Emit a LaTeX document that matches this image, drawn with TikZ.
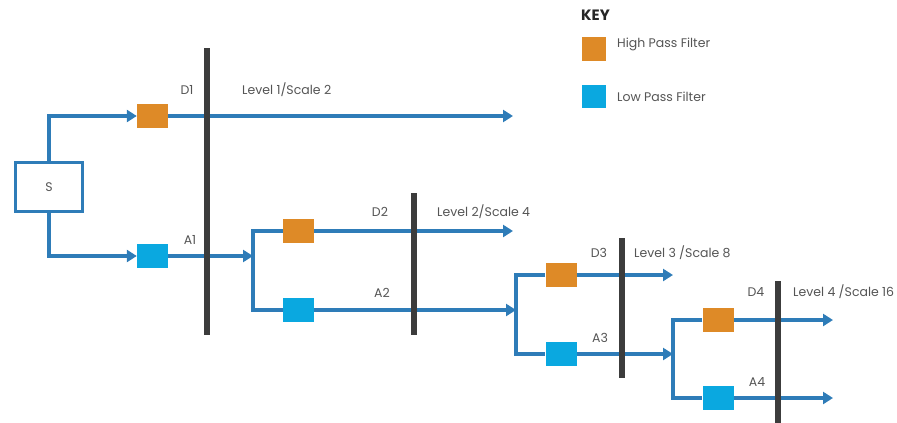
\documentclass[tikz,border=0pt]{standalone}
\usepackage{fontspec}
\setmainfont{Poppins}
\usetikzlibrary{arrows.meta}
\definecolor{lineblue}{HTML}{2E7CB8}
\definecolor{hpf}{HTML}{DE8A27}
\definecolor{lpf}{HTML}{0AA8E0}
\definecolor{barc}{HTML}{3C3C3C}
\definecolor{txt}{HTML}{555555}
\begin{document}
\begin{tikzpicture}[x=1pt,y=-1pt,
  wire/.style={draw=lineblue,line width=3.5pt},
  arr/.style={wire,-{Triangle[length=10pt,width=12pt]}},
  hp/.style={fill=hpf,draw=none,minimum width=31pt,minimum height=24pt,inner sep=0pt},
  lp/.style={fill=lpf,draw=none,minimum width=31pt,minimum height=24pt,inner sep=0pt},
  barline/.style={draw=barc,line width=6.5pt},
  lbl/.style={text=txt,font=\fontsize{12.5}{14}\selectfont,inner sep=0pt},
  sbox/.style={draw=lineblue,line width=3.5pt,minimum width=67pt,minimum height=49pt,inner sep=0pt,text=txt,font=\fontsize{12.5}{14}\selectfont}
]
\useasboundingbox (0,0) rectangle (897,423);
% nodes
\node[sbox] (S) at (49,187) {S};
\node[hp] (h1) at (152.5,116) {};
\node[lp] (l1) at (152.5,256) {};
\node[hp] (h2) at (298.5,231) {};
\node[lp] (l2) at (298.5,310) {};
\node[hp] (h3) at (561,275) {};
\node[lp] (l3) at (561,354) {};
\node[hp] (h4) at (718,320) {};
\node[lp] (l4) at (718,398) {};
\coordinate (e1) at (513,116);
\coordinate (j2) at (253,256);
\coordinate (e2) at (513,231);
\coordinate (j3) at (516,310);
\coordinate (e3) at (673,275);
\coordinate (j4) at (673,354);
\coordinate (e4) at (833,320);
\coordinate (e5) at (833,398);
% connectors
\draw[arr] (S.north) |- (h1.west);
\draw[arr] (S.south) |- (l1.west);
\draw[arr] (h1.east) -- (e1);
\draw[arr] (l1.east) -- (j2);
\draw[wire] (h2.west) -| (j2) |- (l2.west);
\draw[arr] (h2.east) -- (e2);
\draw[arr] (l2.east) -- (j3);
\draw[wire] (h3.west) -| (j3) |- (l3.west);
\draw[arr] (h3.east) -- (e3);
\draw[arr] (l3.east) -- (j4);
\draw[wire] (h4.west) -| (j4) |- (l4.west);
\draw[arr] (h4.east) -- (e4);
\draw[arr] (l4.east) -- (e5);
% bars
\draw[barline] (207,48) -- (207,335);
\draw[barline] (414,193) -- (414,335);
\draw[barline] (622,238) -- (622,378);
\draw[barline] (778,281) -- (778,423);
% labels
\node[lbl] (tD1) at (187,90) {D1};
\node[lbl,anchor=west] (tL1) at (242,90) {Level 1/Scale 2};
\node[lbl] (tA1) at (190,240) {A1};
\node[lbl] (tD2) at (380,212) {D2};
\node[lbl,anchor=west] (tL2) at (437,212) {Level 2/Scale 4};
\node[lbl] (tA2) at (382,293) {A2};
\node[lbl] (tD3) at (599,253) {D3};
\node[lbl,anchor=west] (tL3) at (634,253) {Level 3 /Scale 8};
\node[lbl] (tA3) at (600,338) {A3};
\node[lbl] (tD4) at (756,292) {D4};
\node[lbl,anchor=west] (tL4) at (793,292) {Level 4 /Scale 16};
\node[lbl] (tA4) at (757,382) {A4};
% key
\node[anchor=west,inner sep=0pt,text=black!85,font=\fontsize{15}{17}\selectfont\bfseries] (key) at (581,15) {KEY};
\node[hp,minimum width=24pt,minimum height=24pt] (kh) at (594,49) {};
\node[lp,minimum width=24pt,minimum height=23pt] (kl) at (594,96.5) {};
\node[lbl,anchor=west] (khl) at (617,44) {High Pass Filter};
\node[lbl,anchor=west] (kll) at (617,97) {Low Pass Filter};
\end{tikzpicture}
\end{document}
